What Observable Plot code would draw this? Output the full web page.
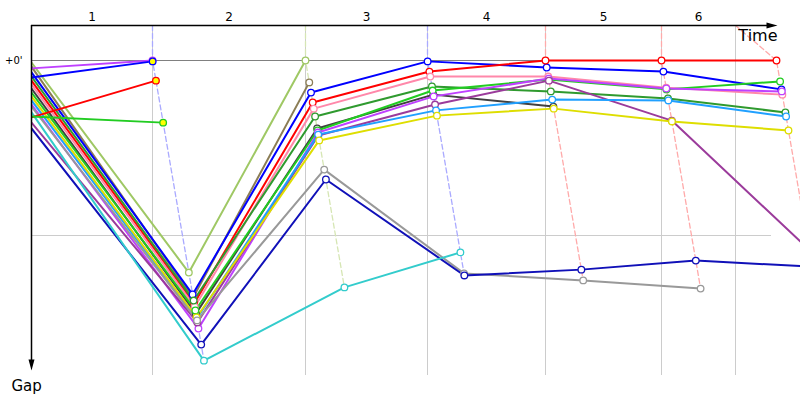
<!DOCTYPE html>
<html><head><meta charset="utf-8">
<script src="https://cdn.jsdelivr.net/npm/d3@7"></script>
<script src="https://cdn.jsdelivr.net/npm/@observablehq/plot@0.6"></script>
<style>body{margin:0;background:#fff;} #chart svg{display:block}</style>
</head><body><div id="chart"></div>
<script>
// Lap labels shown along the time axis
const lapLabels = ["1", "2", "3", "4", "5", "6"];
// Lap boundary times (s) drawn as vertical grid lines
const lapBounds = [0, 242, 548, 792, 1028, 1260, 1408];
// Time (s) at which the leader completes each lap
const leaderTimes = [0, 242, 548, 792, 1028, 1260, 1490];
// Colour of the dashed "lap line" for each lap (lighter leader colour)
const lapTraceColors = [null, "#aaaaff", "#d6e6b4", "#aaaaff", "#ffaaaa", "#ffaaaa", "#ffaaaa"];

// Gap to the leader (s) at the end of each lap, one array per car
const gapLightGreen = [0.7, 72.7, 0];
const gapKhaki      = [2.1, 81.3, 7.5];
const gapBlue       = [4.1, 80.2, 11.0, 0.3, 2.4, 3.8, 9.9];
const gapRed        = [6.9, 83.3, 14.4, 3.8, 0, 0, 0];
const gapPink       = [8.2, 84.4, 16.5, 5.5, 5.5, 9.3, 11.7];
const gapDarkGreen  = [5.5, 82.3, 19.2, 8.9, 10.6, 13.0, 17.8];
const gapBlack      = [9.6, 86.8, 23.3, 11.7, 15.8];
const gapGreen      = [11.0, 85.7, 24.0, 10.3, 6.5, 9.9, 7.2];
const gapViolet     = [15.1, 91.9, 24.7, 12.3, 6.2, 9.6, 10.6];
const gapPurple     = [21.3, 89.8, 25.7, 15.1, 6.9, 20.6, 64.8];
const gapSky        = [13.7, 88.5, 25.4, 17.1, 13.4, 13.7, 19.2];
const gapYellow     = [12.3, 88.1, 27.4, 18.9, 16.5, 20.9, 24.0];
const gapGray       = [15.8, 89.1, 37.4, 73.0, 75.4, 78.2];
const gapNavy       = [23.3, 97.4, 40.8, 73.7, 71.7, 68.6, 70.7];
const gapCyan       = [17.8, 102.9, 77.8, 65.8];
const gapViolet2    = [2.7, 0];
const gapBlue2      = [5.8, 0.3];
const gapRed2       = [19.5, 6.9];
const gapGreen2     = [19.2, 21.3];

const carNames  = ["LightGreen","Khaki","Blue","Red","Pink","DarkGreen","Black","Green","Violet","Purple","Sky","Yellow","Gray","Navy","Cyan","Violet2","Blue2","Red2","Green2"];
const carColors = ["#9fc864","#8b7d55","#0000ff","#ff0000","#ff88aa","#2f9a2f","#404040","#22cc22","#bf40ff","#9b3b9b","#20a0ff","#dede00","#999999","#1010b8","#33cccc","#bf40ff","#0000ff","#ff0000","#22cc22"];
const carRetired = [false,false,false,false,false,false,false,false,false,false,false,false,false,false,false,true,true,true,true];
const carGaps = [gapLightGreen,gapKhaki,gapBlue,gapRed,gapPink,gapDarkGreen,gapBlack,gapGreen,gapViolet,gapPurple,gapSky,gapYellow,gapGray,gapNavy,gapCyan,gapViolet2,gapBlue2,gapRed2,gapGreen2];

// Build point table: time = leader's lap time + gap
const rows = [];
carGaps.forEach((g, c) => g.forEach((gap, lap) => {
  rows.push({car: carNames[c], color: carColors[c], lap, gap,
    t: lap === 0 ? 0 : leaderTimes[lap] + gap,
    fill: carRetired[c] && lap === g.length - 1 ? "#ffff00" : "white"});
}));

const Y_TOP = -12, Y_BOTTOM = 108, X_END = 1538;

// Lap lines: from lap boundary at top, through leader, down to last car of that lap
const traces = [];
for (let lap = 1; lap < leaderTimes.length; lap++) {
  const lapRows = rows.filter(d => d.lap === lap);
  const maxGap = d3.max(lapRows, d => d.gap);
  traces.push({lap, t: lapBounds[lap], gap: Y_TOP, color: lapTraceColors[lap]});
  traces.push({lap, t: leaderTimes[lap], gap: 0, color: lapTraceColors[lap]});
  traces.push({lap, t: leaderTimes[lap] + maxGap, gap: maxGap, color: lapTraceColors[lap]});
}
const labelRows = lapLabels.map((l, i) => ({label: l, t: (lapBounds[i] + lapBounds[i + 1]) / 2}));

const chart = Plot.plot({
  width: 800, height: 400,
  marginLeft: 31, marginRight: 0, marginTop: 25, marginBottom: 25,
  x: {domain: [0, X_END], axis: null},
  y: {domain: [Y_TOP, Y_BOTTOM], reverse: true, axis: null},
  color: {type: "identity"},
  style: {fontFamily: "DejaVu Sans", background: "white"},
  marks: [
    Plot.ruleX(lapBounds.slice(1), {y1: Y_TOP, y2: Y_BOTTOM, stroke: "#cccccc", strokeWidth: 1}),
    Plot.ruleY([60], {x1: 0, x2: 1480, stroke: "#cccccc", strokeWidth: 1}),
    Plot.ruleY([0], {x1: 0, x2: 1480, stroke: "#808080", strokeWidth: 1}),
    Plot.line(traces, {x: "t", y: "gap", z: "lap", stroke: "color", strokeWidth: 1.3, strokeDasharray: "5,3", clip: true}),
    Plot.line(rows, {x: "t", y: "gap", z: "car", stroke: "color", strokeWidth: 2, clip: true}),
    Plot.dot(rows.filter(d => d.lap > 0), {x: "t", y: "gap", stroke: "color", fill: "fill", r: 3.3, strokeWidth: 1.3, clip: true}),
    // axes
    Plot.ruleY([Y_TOP], {x1: 0, x2: 1474, stroke: "black", strokeWidth: 1.5}),
    Plot.vector([0], {x: 1470, y: Y_TOP, length: 11, r: 3, rotate: 90, shape: "spike", anchor: "start", fill: "black", stroke: "none"}),
    Plot.ruleX([0], {y1: Y_TOP, y2: 103.5, stroke: "black", strokeWidth: 1.5}),
    Plot.vector([0], {x: 0, y: 102.5, length: 11, r: 3, rotate: 180, shape: "spike", anchor: "start", fill: "black", stroke: "none"}),
    Plot.text(labelRows, {x: "t", y: Y_TOP, text: "label", dy: -8, fontSize: 12, fill: "black"}),
    Plot.text(["+0'"], {x: 0, y: 0, dx: -9, textAnchor: "end", fontSize: 10, fill: "black"}),
    Plot.text(["Time"], {frameAnchor: "top-right", dx: -23, dy: 15, textAnchor: "end", lineAnchor: "bottom", fontSize: 16, fill: "black"}),
    Plot.text(["Gap"], {frameAnchor: "bottom-left", dx: -20, dy: 15, textAnchor: "start", lineAnchor: "bottom", fontSize: 15, fill: "black"})
  ]
});
document.getElementById("chart").appendChild(chart);
</script>
</body></html>
